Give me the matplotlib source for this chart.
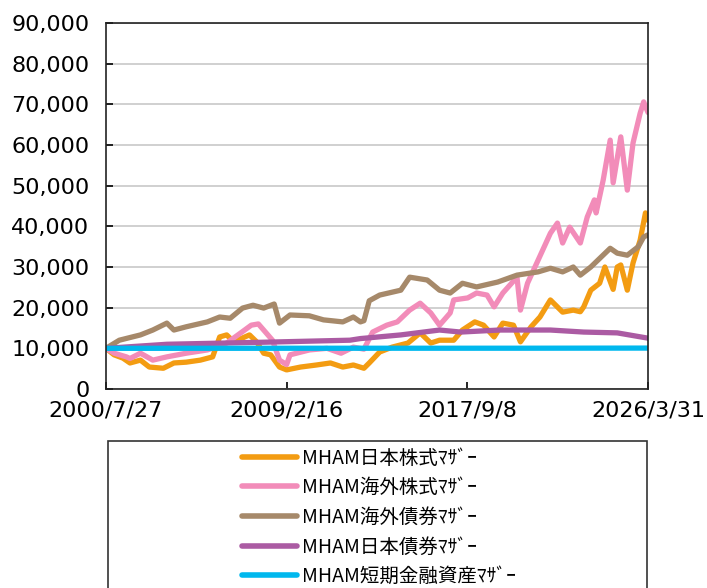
import pandas as pd
import matplotlib
matplotlib.use("Agg")
import matplotlib.pyplot as plt
from matplotlib.lines import Line2D
from matplotlib.patches import Rectangle
from matplotlib.ticker import FuncFormatter

# series names (legend order)
names = ["MHAM日本株式ﾏｻﾞｰ", "MHAM海外株式ﾏｻﾞｰ", "MHAM海外債券ﾏｻﾞｰ",
         "MHAM日本債券ﾏｻﾞｰ", "MHAM短期金融資産ﾏｻﾞｰ"]
colors = ["#F39C12", "#F28CB9", "#A6896A", "#AB5BA3", "#00B8EE"]

# values (index, start = 10,000)
jp_eq_dates = ["2000-07-27", "2000-12-15", "2001-05-15", "2001-09-15", "2002-03-15",
               "2002-08-15", "2003-04-15", "2003-10-15", "2004-05-15", "2005-01-15",
               "2005-08-15", "2005-12-15", "2006-04-15", "2006-08-15", "2007-05-15",
               "2007-09-15", "2008-01-15", "2008-05-15", "2008-10-15", "2009-02-15",
               "2009-10-15", "2010-07-15", "2011-03-15", "2011-10-15", "2012-04-15",
               "2012-10-15", "2013-01-15", "2013-07-15", "2014-02-15", "2014-11-15",
               "2015-06-15", "2015-12-15", "2016-05-15", "2017-01-15", "2017-06-15",
               "2018-01-15", "2018-06-15", "2018-12-15", "2019-05-15", "2019-11-15",
               "2020-03-15", "2020-09-15", "2021-02-15", "2021-08-15", "2022-03-15",
               "2022-09-15", "2023-01-15", "2023-03-15", "2023-07-15", "2023-12-15",
               "2024-03-15", "2024-08-05", "2024-10-15", "2024-12-15", "2025-04-07",
               "2025-07-15", "2025-11-15", "2026-02-15", "2026-03-31"]
jp_eq_vals = [10000, 8400, 7600, 6400, 7100,
              5400, 5100, 6400, 6600, 7100,
              7900, 12800, 13300, 11600, 13300,
              11600, 8800, 8400, 5400, 4700,
              5400, 5900, 6400, 5400, 5900,
              5100, 6400, 9100, 10300, 11300,
              13800, 11300, 12000, 12000, 14500,
              16500, 15700, 12800, 16200, 15700,
              11600, 15300, 17700, 21900, 18900,
              19400, 19000, 20200, 24300, 26000,
              30000, 24500, 30000, 30500, 24300,
              31000, 36600, 43300, 41500]

fr_eq_dates = ["2000-07-27", "2000-12-15", "2001-07-15", "2001-09-15", "2002-03-15",
               "2002-10-15", "2003-06-15", "2004-05-15", "2005-05-15", "2006-04-15",
               "2006-12-15", "2007-06-15", "2007-10-15", "2008-01-15", "2008-06-15",
               "2008-10-15", "2009-02-15", "2009-04-15", "2010-03-15", "2011-01-15",
               "2011-09-15", "2012-04-15", "2012-10-15", "2013-03-15", "2013-11-15",
               "2014-05-15", "2014-12-15", "2015-06-15", "2015-12-15", "2016-05-15",
               "2016-11-15", "2017-01-15", "2017-09-15", "2018-02-15", "2018-08-15",
               "2018-12-15", "2019-05-15", "2020-01-15", "2020-03-15", "2020-07-15",
               "2021-01-15", "2021-08-15", "2021-12-15", "2022-03-15", "2022-07-15",
               "2023-01-15", "2023-05-15", "2023-09-15", "2023-10-15", "2024-02-15",
               "2024-06-15", "2024-08-05", "2024-12-15", "2025-04-07", "2025-07-15",
               "2025-11-15", "2026-01-15", "2026-03-31"]
fr_eq_vals = [10000, 8800, 7900, 7500, 8800,
              7100, 7900, 8800, 9600, 11300,
              13800, 15700, 16000, 14500, 12000,
              7100, 6000, 8400, 9600, 10000,
              8800, 10300, 9800, 14000, 15700,
              16500, 19400, 21100, 18700, 15700,
              18700, 21900, 22400, 23600, 23100,
              20200, 23600, 27500, 19400, 26000,
              31700, 38300, 40800, 35900, 39800,
              35900, 42300, 46500, 43300, 51400,
              61200, 50700, 62000, 48900, 60500,
              67800, 70600, 68000]

fr_bd_dates = ["2000-07-27", "2001-03-15", "2002-03-15", "2002-10-15", "2003-06-15",
               "2003-10-15", "2004-05-15", "2005-05-15", "2005-12-15", "2006-06-15",
               "2007-01-15", "2007-07-15", "2008-01-15", "2008-07-15", "2008-10-15",
               "2009-04-15", "2010-03-15", "2010-11-15", "2011-10-15", "2012-04-15",
               "2012-08-15", "2012-10-15", "2013-01-15", "2013-07-15", "2014-07-15",
               "2014-12-15", "2015-10-15", "2016-05-15", "2016-11-15", "2017-06-15",
               "2018-02-15", "2019-02-15", "2020-01-15", "2021-01-15", "2021-08-15",
               "2022-03-15", "2022-09-15", "2023-01-15", "2023-07-15", "2024-06-15",
               "2024-10-15", "2025-04-07", "2025-10-15", "2026-01-15", "2026-03-31"]
fr_bd_vals = [10000, 12000, 13300, 14500, 16200,
              14500, 15300, 16500, 17700, 17400,
              19900, 20600, 19900, 20900, 16200,
              18200, 18000, 17000, 16500, 17700,
              16500, 16800, 21700, 23100, 24300,
              27500, 26800, 24300, 23600, 26000,
              25100, 26300, 28000, 28800, 29700,
              28800, 30000, 28000, 30000, 34600,
              33400, 32900, 35000, 37400, 37900]

jp_bd_dates = ["2000-07-27", "2003-06-15", "2008-01-15", "2012-02-15", "2012-08-15",
               "2014-07-15", "2016-05-15", "2017-05-15", "2019-03-15", "2021-08-15",
               "2023-03-15", "2024-10-15", "2026-03-31"]
jp_bd_vals = [10000, 11000, 11500, 12000, 12400,
              13300, 14500, 14000, 14500, 14500,
              14000, 13800, 12500]

mmf_dates = ["2000-07-27", "2010-01-15", "2020-01-15", "2026-03-31"]
mmf_vals = [10000, 10020, 10030, 10060]

series = [(jp_eq_dates, jp_eq_vals), (fr_eq_dates, fr_eq_vals), (fr_bd_dates, fr_bd_vals),
          (jp_bd_dates, jp_bd_vals), (mmf_dates, mmf_vals)]

tick_dates = ["2000-07-27", "2009-02-16", "2017-09-08", "2026-03-31"]
tick_labels = ["2000/7/27", "2009/2/16", "2017/9/8", "2026/3/31"]

fig = plt.figure(figsize=(7.07, 5.88), dpi=100)
ax = fig.add_axes([106 / 707, 1 - 389 / 588, (648 - 106) / 707, (389 - 23) / 588])

for (d, v), c in zip(series, colors):
    ax.plot(pd.to_datetime(d), v, color=c, lw=3.8, solid_joinstyle="round", solid_capstyle="round")

ax.set_ylim(0, 90000)
ax.set_yticks(range(0, 90001, 10000))
ax.yaxis.set_major_formatter(FuncFormatter(lambda y, p: f"{int(y):,}"))
ax.set_xlim(pd.Timestamp("2000-07-27"), pd.Timestamp("2026-03-31"))
ax.set_xticks(pd.to_datetime(tick_dates))
ax.set_xticklabels(tick_labels)

ax.grid(axis="y", color="#C8C8C8", lw=1.2)
ax.set_axisbelow(True)
ax.tick_params(axis="both", direction="in", length=5, width=1.2, labelsize=16, colors="black")
ax.tick_params(axis="y", pad=12)
ax.tick_params(axis="x", pad=8)
for s in ax.spines.values():
    s.set_color("#222222")
    s.set_linewidth(1.2)

# legend: entries centred-ish, frame running off the bottom of the figure
handles = [Line2D([0], [0], color=c, lw=4, solid_capstyle="round") for c in colors]
fig.legend(handles, names, loc="upper left", bbox_to_anchor=(232 / 707, 1 - 438 / 588),
           frameon=False, borderpad=0, handlelength=2.85, handletextpad=0.25,
           labelspacing=0.44, prop={"family": ["Noto Sans CJK JP", "DejaVu Sans"], "size": 14})
fig.patches.append(Rectangle((108 / 707, -0.1), (647 - 108) / 707, 0.1 + (588 - 441) / 588,
                             transform=fig.transFigure, fill=False, edgecolor="#333333", lw=1.2))

fig.savefig("out.png", dpi=100)
